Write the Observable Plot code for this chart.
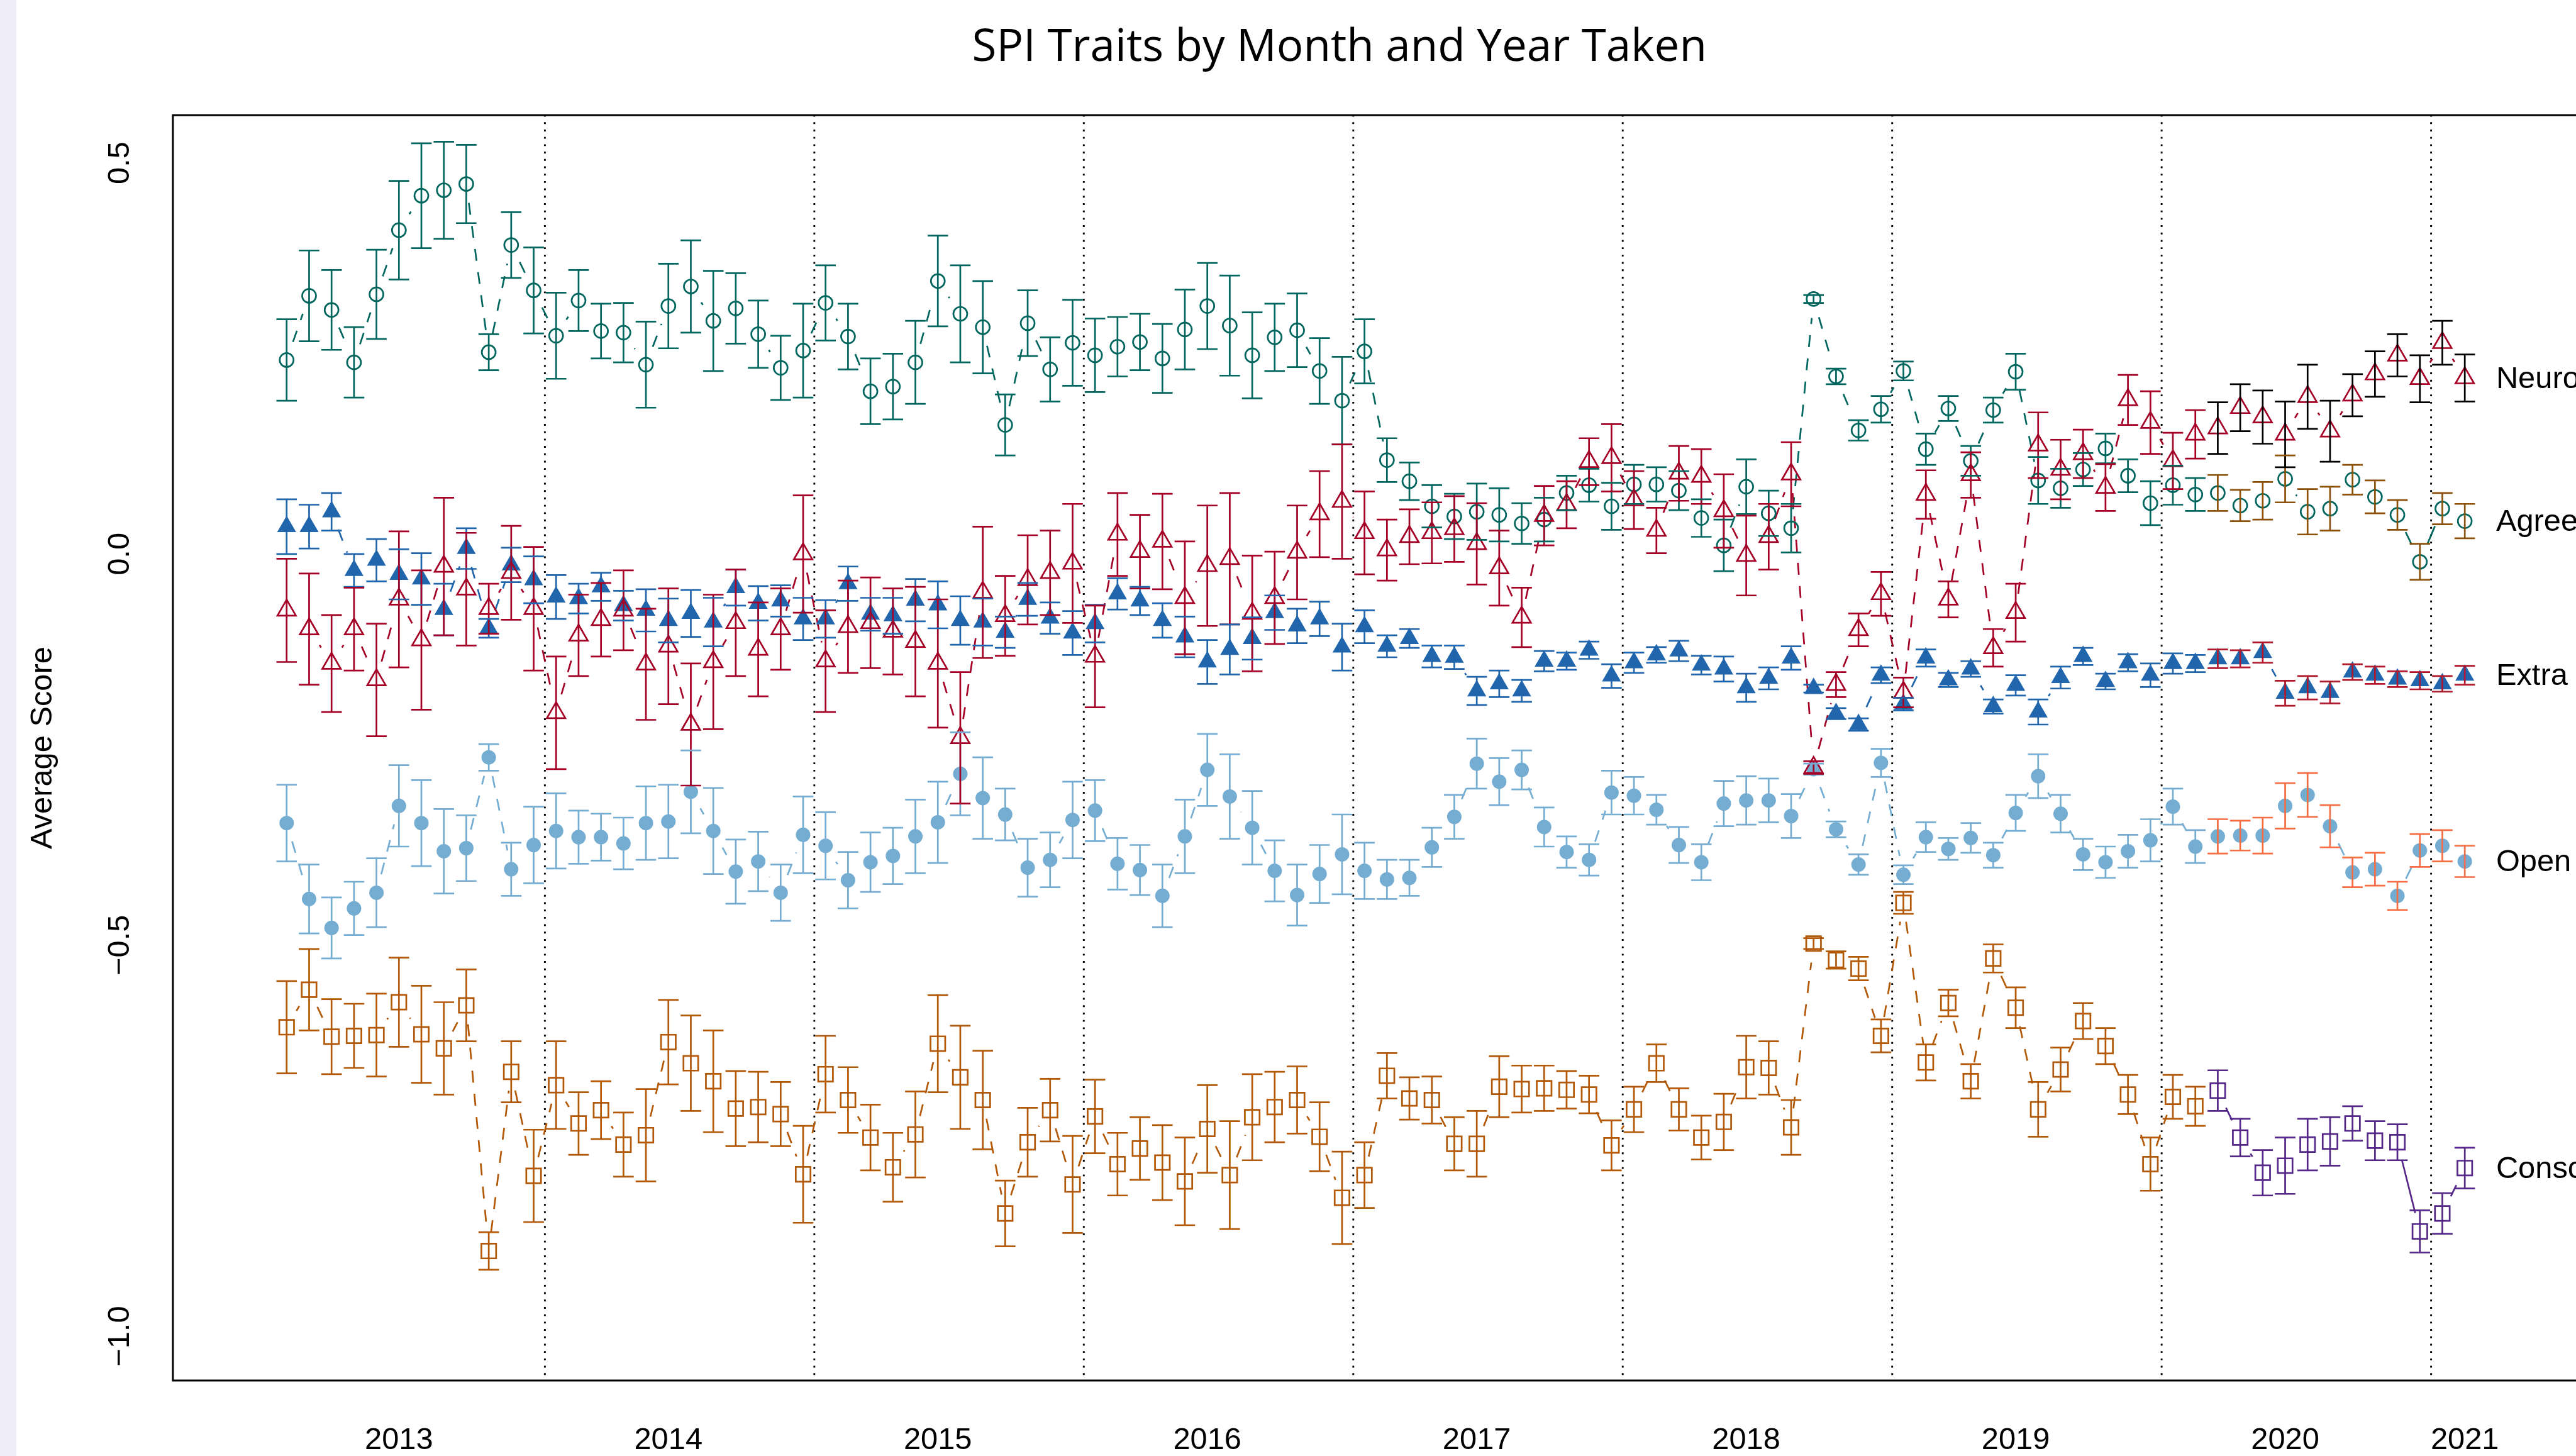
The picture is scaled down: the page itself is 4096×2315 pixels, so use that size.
<!DOCTYPE html>
<html><head><meta charset="utf-8">
<script src="https://cdn.jsdelivr.net/npm/d3@7"></script>
<script src="https://cdn.jsdelivr.net/npm/@observablehq/plot@0.6"></script>
<style>
html,body{margin:0;padding:0;overflow:hidden;background:#fff;}
#wrap{position:relative;width:4096px;height:2315px;overflow:hidden;background:#fff;}
#strip{position:absolute;left:0;top:0;width:26px;height:2315px;background:#efedf8;}
#wrap svg{max-width:none !important;position:absolute;left:0;top:0;}
</style></head><body><div id="wrap"><div id="strip"></div></div>
<script>
// ---------------- data (month index 0 = Jan 2013 ... 97 = Feb 2021) ----------------
const agreeMean = [0.248,0.330,0.312,0.245,0.332,0.414,0.458,0.465,0.473,0.258,0.395,0.337,0.279,0.324,
0.285,0.283,0.242,0.317,0.342,0.298,0.314,0.281,0.238,0.260,0.321,0.278,0.208,0.214,0.245,0.349,0.307,0.290,
0.165,0.295,0.236,0.270,0.254,0.265,0.271,0.250,0.287,0.317,0.292,0.254,0.277,0.286,0.234,0.196,0.259,0.120,
0.093,0.061,0.048,0.054,0.050,0.039,0.044,0.078,0.088,0.061,0.089,0.089,0.081,0.046,0.011,0.086,0.052,0.033,
0.326,0.227,0.158,0.185,0.234,0.134,0.186,0.119,0.184,0.233,0.094,0.084,0.108,0.135,0.100,0.065,0.088,0.076,
0.078,0.062,0.068,0.096,0.054,0.058,0.095,0.073,0.050,-0.010,0.058,0.042];
const agreeErr = [.052,.058,.051,.045,.057,.063,.067,.062,.050,.023,.042,.055,.055,.039,
.035,.038,.055,.054,.059,.064,.045,.043,.041,.060,.048,.042,.042,.042,.053,.058,.062,.059,
.039,.042,.041,.055,.047,.038,.036,.044,.051,.055,.064,.055,.043,.047,.042,.056,.041,.028,
.024,.027,.029,.036,.034,.026,.028,.022,.021,.030,.025,.022,.025,.024,.033,.035,.029,.031,
.005,.010,.013,.017,.012,.020,.016,.019,.016,.023,.030,.025,.021,.019,.021,.028,.025,.021,
.023,.020,.024,.030,.029,.028,.019,.021,.019,.023,.020,.022];

const neuroMean = [-0.072,-0.096,-0.140,-0.096,-0.161,-0.058,-0.110,-0.016,-0.045,-0.070,-0.024,-0.070,-0.203,-0.104,
-0.084,-0.072,-0.141,-0.118,-0.218,-0.138,-0.088,-0.122,-0.096,0.000,-0.137,-0.093,-0.088,-0.099,-0.112,-0.140,-0.235,-0.049,
-0.079,-0.033,-0.024,-0.012,-0.131,0.025,0.003,0.016,-0.056,-0.015,-0.006,-0.076,-0.056,0.002,0.051,0.067,0.027,0.005,
0.022,0.027,0.032,0.013,-0.018,-0.081,0.049,0.063,0.118,0.123,0.069,0.030,0.103,0.099,0.055,-0.002,0.022,0.102,
-0.273,-0.167,-0.097,-0.051,-0.177,0.076,-0.058,0.101,-0.120,-0.075,0.139,0.108,0.128,0.085,0.197,0.168,0.119,0.153,
0.161,0.187,0.175,0.153,0.201,0.157,0.203,0.230,0.254,0.224,0.270,0.225];
const neuroErr = [.066,.071,.062,.053,.072,.087,.089,.088,.072,.032,.060,.079,.072,.052,
.047,.051,.071,.074,.078,.086,.068,.060,.052,.075,.065,.059,.058,.055,.070,.082,.084,.084,
.051,.057,.054,.076,.065,.053,.047,.061,.072,.077,.084,.074,.059,.060,.055,.073,.053,.039,
.035,.039,.042,.052,.048,.038,.038,.030,.030,.043,.037,.029,.035,.035,.047,.051,.042,.041,
.008,.016,.021,.028,.019,.031,.023,.029,.024,.037,.042,.038,.031,.030,.032,.040,.036,.031,
.033,.030,.034,.042,.041,.039,.027,.029,.027,.030,.028,.030];

const extraMean = [0.035,0.035,0.054,-0.021,-0.008,-0.026,-0.032,-0.071,0.007,-0.095,-0.014,-0.033,-0.055,-0.057,
-0.042,-0.066,-0.072,-0.085,-0.076,-0.087,-0.043,-0.063,-0.060,-0.083,-0.083,-0.038,-0.077,-0.079,-0.059,-0.065,-0.085,-0.087,
-0.100,-0.058,-0.082,-0.101,-0.089,-0.051,-0.060,-0.085,-0.106,-0.138,-0.122,-0.108,-0.075,-0.092,-0.083,-0.119,-0.093,-0.118,
-0.108,-0.131,-0.132,-0.175,-0.166,-0.175,-0.137,-0.137,-0.123,-0.156,-0.139,-0.129,-0.124,-0.142,-0.147,-0.171,-0.159,-0.133,
-0.172,-0.204,-0.218,-0.155,-0.192,-0.133,-0.161,-0.147,-0.195,-0.168,-0.202,-0.158,-0.131,-0.163,-0.139,-0.155,-0.140,-0.140,
-0.134,-0.134,-0.126,-0.178,-0.171,-0.177,-0.151,-0.155,-0.160,-0.162,-0.166,-0.155];
const extraErr = [.035,.028,.024,.021,.027,.032,.033,.033,.026,.012,.022,.030,.028,.019,
.018,.019,.027,.028,.030,.031,.023,.022,.020,.027,.024,.022,.021,.023,.027,.030,.031,.030,
.020,.021,.020,.028,.024,.020,.018,.022,.026,.028,.032,.027,.022,.022,.022,.030,.021,.014,
.012,.014,.015,.018,.017,.014,.013,.011,.011,.015,.013,.010,.013,.012,.016,.018,.014,.015,
.005,.007,.008,.010,.008,.011,.009,.010,.009,.013,.016,.014,.011,.010,.011,.015,.013,.011,
.012,.011,.013,.016,.015,.014,.010,.011,.010,.011,.010,.012];

const openMean = [-0.344,-0.441,-0.478,-0.453,-0.433,-0.322,-0.344,-0.380,-0.376,-0.260,-0.403,-0.372,-0.354,-0.362,
-0.362,-0.370,-0.344,-0.342,-0.304,-0.354,-0.406,-0.393,-0.433,-0.359,-0.373,-0.417,-0.394,-0.386,-0.361,-0.343,-0.281,-0.312,
-0.333,-0.401,-0.391,-0.340,-0.328,-0.396,-0.404,-0.437,-0.361,-0.276,-0.310,-0.350,-0.405,-0.436,-0.409,-0.384,-0.405,-0.416,
-0.414,-0.375,-0.336,-0.268,-0.291,-0.276,-0.349,-0.381,-0.391,-0.305,-0.309,-0.327,-0.372,-0.394,-0.319,-0.315,-0.315,-0.335,
-0.275,-0.352,-0.397,-0.267,-0.410,-0.362,-0.377,-0.363,-0.385,-0.331,-0.284,-0.332,-0.384,-0.394,-0.380,-0.366,-0.323,-0.374,
-0.361,-0.360,-0.360,-0.322,-0.308,-0.348,-0.407,-0.403,-0.437,-0.379,-0.373,-0.393];
const openErr = [.049,.044,.039,.034,.044,.052,.055,.054,.042,.017,.034,.049,.048,.034,
.030,.033,.047,.047,.053,.055,.041,.038,.036,.049,.043,.036,.038,.036,.047,.052,.053,.052,
.033,.037,.035,.049,.039,.033,.032,.040,.047,.046,.054,.047,.039,.039,.037,.051,.036,.025,
.023,.025,.028,.032,.030,.025,.025,.020,.020,.028,.024,.019,.023,.023,.029,.031,.028,.028,
.007,.010,.013,.018,.012,.019,.014,.019,.016,.023,.028,.024,.020,.020,.021,.027,.023,.021,
.022,.019,.023,.029,.028,.027,.019,.021,.018,.021,.020,.020];

const conscMean = [-0.605,-0.557,-0.617,-0.616,-0.615,-0.573,-0.614,-0.632,-0.577,-0.891,-0.662,-0.795,-0.679,-0.728,
-0.711,-0.755,-0.743,-0.624,-0.651,-0.674,-0.709,-0.707,-0.716,-0.793,-0.665,-0.698,-0.746,-0.784,-0.742,-0.626,-0.669,-0.698,
-0.843,-0.752,-0.711,-0.806,-0.719,-0.780,-0.760,-0.778,-0.802,-0.735,-0.794,-0.720,-0.707,-0.698,-0.745,-0.823,-0.794,-0.667,
-0.696,-0.698,-0.754,-0.754,-0.681,-0.684,-0.683,-0.685,-0.691,-0.756,-0.710,-0.651,-0.710,-0.746,-0.726,-0.656,-0.657,-0.733,
-0.498,-0.519,-0.530,-0.616,-0.446,-0.650,-0.574,-0.674,-0.517,-0.580,-0.710,-0.659,-0.597,-0.629,-0.691,-0.780,-0.694,-0.706,
-0.686,-0.746,-0.791,-0.782,-0.755,-0.751,-0.728,-0.750,-0.752,-0.866,-0.843,-0.785];
const conscErr = [.059,.052,.048,.041,.053,.057,.062,.059,.046,.024,.039,.059,.056,.040,
.037,.041,.059,.054,.061,.065,.048,.045,.041,.062,.049,.042,.042,.044,.055,.062,.066,.063,
.042,.044,.040,.062,.047,.040,.040,.048,.056,.056,.069,.055,.045,.043,.044,.059,.042,.029,
.027,.030,.034,.042,.039,.030,.029,.024,.024,.032,.029,.024,.027,.028,.036,.040,.034,.035,
.007,.011,.015,.021,.014,.023,.017,.022,.018,.026,.035,.028,.023,.023,.025,.034,.028,.025,
.026,.024,.029,.036,.033,.031,.022,.025,.023,.027,.026,.026];

const laterStart = 86;                       // first month of the second (solid-line) segment
const yearBreaks = [11.5,23.5,35.5,47.5,59.5,71.5,83.5,95.5];
const yearTickPos = [5,17,29,41,53,65,77,89,97];
const yearTickLabels = ["2013","2014","2015","2016","2017","2018","2019","2020","2021"];
const yTicks = [0.5,0,-0.5,-1.0];
const yTickLabels = ["0.5","0.0","\u22120.5","\u22121.0"];

// ---------------- layout ----------------
const xDomain = [-5.066, 107.68], xRange = [274.4, 4300];
const yDomain = [-1.0566, 0.5610], yRange = [2194.5, 182.6];
const LW = 2.7, GAP = 30.3;

const traits = [
  {name:"Agree", mean:agreeMean, err:agreeErr, color:"#01665e", laterBar:"#8c510a", laterMark:"#01665e", symbol:"circle",   filled:false, r:11},
  {name:"Consc", mean:conscMean, err:conscErr, color:"#b35806", laterBar:"#542788", laterMark:"#542788", symbol:"square",   filled:false, r:13.2},
  {name:"Open",  mean:openMean,  err:openErr,  color:"#74add1", laterBar:"#f46d43", laterMark:"#74add1", symbol:"circle",   filled:true,  r:11.5},
  {name:"Extra", mean:extraMean, err:extraErr, color:"#2166ac", laterBar:"#b2182b", laterMark:"#2166ac", symbol:"triangle", filled:true,  r:11.2},
  {name:"Neuro", mean:neuroMean, err:neuroErr, color:"#a50026", laterBar:"#000000", laterMark:"#a50026", symbol:"triangle", filled:false, r:10.9}
];

const rows = [];
for (const t of traits) t.mean.forEach((m, i) => {
  const later = i >= laterStart;
  rows.push({trait:t.name, i, mean:m, lo:m - t.err[i], hi:m + t.err[i],
    bar: later ? t.laterBar : t.color, mark: later ? t.laterMark : t.color});
});

// connecting lines with gaps around points (R type = "b")
const xs = d3.scaleLinear(xDomain, xRange), ys = d3.scaleLinear(yDomain, yRange);
const segs = [];
for (const t of traits) for (let i = 1; i < t.mean.length; i++) {
  if (i === laterStart) continue;
  const later = i > laterStart;
  const ax = xs(i-1), ay = ys(t.mean[i-1]), bx = xs(i), by = ys(t.mean[i]);
  const L = Math.hypot(bx-ax, by-ay);
  if (L <= 2*GAP) continue;
  const ux = (bx-ax)/L, uy = (by-ay)/L;
  segs.push({x1:xs.invert(ax+ux*GAP), y1:ys.invert(ay+uy*GAP), x2:xs.invert(bx-ux*GAP), y2:ys.invert(by-uy*GAP),
    color: later ? t.laterMark : t.color, later});
}

const capSymbol = {draw(ctx, size){ const w = Math.sqrt(size/Math.PI); ctx.moveTo(-w,0); ctx.lineTo(w,0); }};
const labelRows = traits.map(t => ({name:t.name, x:t.mean.length, y:t.mean[t.mean.length-1]}));

const markerMarks = traits.map(t => {
  const data = rows.filter(d => d.trait === t.name);
  return t.filled
    ? Plot.dot(data, {x:"i", y:"mean", symbol:t.symbol, r:t.r, fill:"mark", stroke:"none"})
    : Plot.dot(data, {x:"i", y:"mean", symbol:t.symbol, r:t.r, fill:"none", stroke:"mark", strokeWidth:LW});
});

const chart = Plot.plot({
  width: 4400, height: 2315,
  marginLeft: 274.4, marginRight: 100, marginTop: 182.6, marginBottom: 120.5,
  x: {domain: xDomain, range: xRange, axis: null},
  y: {domain: yDomain, range: yRange, axis: null},
  color: {type: "identity"},
  style: {background: "transparent", fontFamily: "'Liberation Sans', Arial, sans-serif", maxWidth: "none", color: "black"},
  marks: [
    Plot.ruleX(yearBreaks, {x: d => d, stroke: "black", strokeWidth: 2.9, strokeDasharray: "2.9,8.8"}),
    Plot.link(segs.filter(d => !d.later), {x1:"x1", y1:"y1", x2:"x2", y2:"y2", stroke:"color", strokeWidth:LW, strokeDasharray:"19,18"}),
    Plot.link(segs.filter(d => d.later), {x1:"x1", y1:"y1", x2:"x2", y2:"y2", stroke:"color", strokeWidth:LW}),
    ...markerMarks,
    Plot.ruleX(rows, {x:"i", y1:"lo", y2:"hi", stroke:"bar", strokeWidth:LW}),
    Plot.dot(rows, {x:"i", y:"lo", symbol:capSymbol, r:16.3, stroke:"bar", strokeWidth:LW, fill:"none"}),
    Plot.dot(rows, {x:"i", y:"hi", symbol:capSymbol, r:16.3, stroke:"bar", strokeWidth:LW, fill:"none"}),
    Plot.frame({stroke: "black", strokeWidth: 3}),
    // right-hand trait labels
    Plot.text(labelRows, {x:"x", y:"y", text:"name", textAnchor:"start", dx:14, fontSize:48.8, fill:"black"}),
    // x axis year labels
    Plot.text(yearTickPos, {x: d => d, text: (d, k) => yearTickLabels[k], frameAnchor:"bottom", textAnchor:"middle", lineAnchor:"top", dy:74.1, fontSize:48.8, fill:"black"}),
    // y axis tick labels (rotated)
    Plot.text(yTicks, {y: d => d, text: (d, k) => yTickLabels[k], frameAnchor:"left", textAnchor:"middle", dx:-85.9, rotate:-90, fontSize:48.8, fill:"black"}),
    // y axis title
    Plot.text(["Average Score"], {text: d => d, frameAnchor:"left", textAnchor:"middle", dx:-209, rotate:-90, fontSize:48.8, fill:"black"}),
    // chart title
    Plot.text(["SPI Traits by Month and Year Taken"], {text: d => d, frameAnchor:"top", textAnchor:"middle", dx:-158, dy:-85.9, lineAnchor:"bottom", fontSize:71, fontFamily:"'Open Sans', sans-serif", fill:"black"})
  ]
});
document.getElementById("wrap").appendChild(chart);
</script></body></html>
